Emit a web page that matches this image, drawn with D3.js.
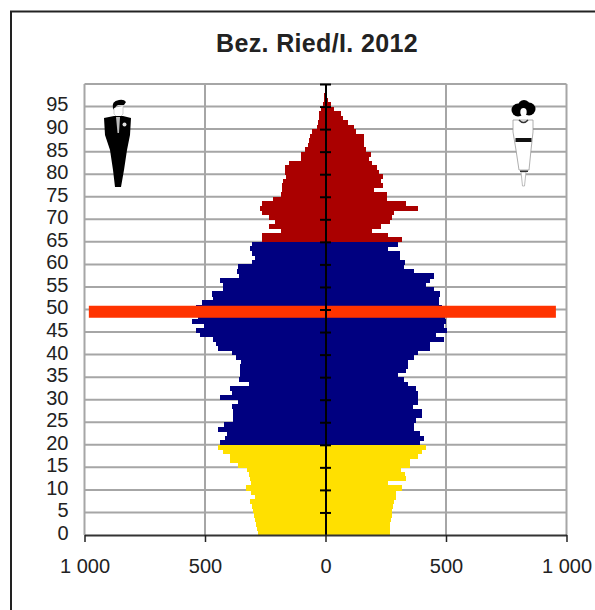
<!DOCTYPE html>
<html>
<head>
<meta charset="utf-8">
<script src="https://cdn.jsdelivr.net/npm/d3@7"></script>
<style>
  html, body { margin: 0; padding: 0; background: #fff; overflow: hidden; }
  text { font-family: "Liberation Sans", Arial, sans-serif; fill: #222; }
</style>
</head>
<body>
<div id="chart"></div>
<script>
// population per single year of age, index = age
const males = [
  282, 286, 289, 292, 296, 300, 305, 313, 292, 310,
  330, 310, 314, 317, 324, 365, 397, 397, 425, 448,
  438, 416, 407, 448, 420, 383, 383, 383, 389, 365,
  438, 390, 397, 317, 358, 355, 355, 355, 349, 372,
  389, 448, 455, 465, 521, 538, 506, 555, 531, 534,
  538, 513, 466, 472, 427, 427, 438, 358, 368, 365,
  306, 292, 306, 314, 306, 264, 264, 183, 234, 209,
  234, 264, 272, 264, 217, 185, 181, 181, 178, 165,
  167, 167, 151, 102, 102, 86, 71, 68, 65, 54,
  37, 33, 29, 26, 19, 10, 6, 5, 4, 3
];
const females = [
  268, 268, 268, 271, 275, 278, 281, 285, 292, 292,
  317, 260, 333, 329, 313, 350, 350, 382, 400, 416,
  391, 409, 391, 368, 368, 375, 400, 400, 361, 383,
  385, 385, 375, 344, 326, 301, 336, 344, 344, 368,
  384, 433, 433, 492, 458, 506, 492, 499, 497, 492,
  485, 469, 469, 475, 451, 416, 433, 451, 368, 326,
  330, 310, 310, 260, 299, 317, 260, 195, 230, 267,
  275, 285, 385, 333, 257, 257, 202, 237, 230, 237,
  220, 212, 195, 181, 188, 167, 160, 160, 160, 126,
  119, 95, 73, 64, 36, 22, 12, 4, 3, 2
];

// age groups
const groupStarts = [0, 20, 65];
const groupColors = ["#ffe000", "#000080", "#aa0000"];

// red marker bar (birth year cohort)
const markerAge = [49];
const markerMale = [982];
const markerFemale = [956];

const ageTicks = d3.range(0, 100, 5);
const gridAges = d3.range(5, 101, 5);
const valueTicks = [-1000, -500, 0, 500, 1000];
const title = "Bez. Ried/I. 2012";

const width = 595;
const height = 610;

const x = d3.scaleLinear().domain([-1000, 1000]).range([84.5, 566.5]);
const y = d3.scaleLinear().domain([0, 100]).range([535, 84]);
const ageColor = d3.scaleThreshold().domain(groupStarts.slice(1)).range(groupColors);

const svg = d3
  .select("#chart")
  .append("svg")
  .attr("width", width)
  .attr("height", height);

// frame of the picture, runs off right and bottom
svg
  .append("path")
  .attr("d", "M11,620V11.5H610")
  .style("fill", "none")
  .style("stroke", "#222")
  .style("stroke-width", 2);

svg
  .append("text")
  .attr("x", 317)
  .attr("y", 52)
  .attr("text-anchor", "middle")
  .style("font-weight", "bold")
  .style("font-size", "25px")
  .style("letter-spacing", "0.35px")
  .text(title);

// Grid
svg
  .selectAll(".gridH")
  .data(gridAges)
  .enter()
  .append("line")
  .attr("class", "gridH")
  .attr("x1", x(-1000))
  .attr("x2", x(1000))
  .attr("y1", d => y(d))
  .attr("y2", d => y(d))
  .style("stroke", "#a6a6a6")
  .style("stroke-width", 2);

svg
  .selectAll(".gridV")
  .data(valueTicks.filter(d => d !== 0))
  .enter()
  .append("line")
  .attr("class", "gridV")
  .attr("x1", d => x(d))
  .attr("x2", d => x(d))
  .attr("y1", y(100))
  .attr("y2", y(0))
  .style("stroke", "#a6a6a6")
  .style("stroke-width", 2);

// Bars
const drawSide = (values, side) => {
  svg
    .selectAll(".bar" + side)
    .data(values)
    .enter()
    .append("rect")
    .attr("class", "bar" + side)
    .attr("x", d => (side < 0 ? x(-d) : x(0)))
    .attr("width", d => x(d) - x(0))
    .attr("y", (d, i) => y(i + 1))
    .attr("height", (d, i) => y(i) - y(i + 1) + 0.6)
    .attr("fill", (d, i) => ageColor(i))
    .attr("shape-rendering", "crispEdges");
};
drawSide(males, -1);
drawSide(females, 1);

// Marker
svg
  .selectAll(".marker")
  .data(markerAge)
  .enter()
  .append("rect")
  .attr("class", "marker")
  .attr("x", (d, i) => x(-markerMale[i]))
  .attr("width", (d, i) => x(markerFemale[i]) - x(-markerMale[i]))
  .attr("y", d => y(d + 0.5) - 6)
  .attr("height", 12)
  .attr("fill", "#ff3300");

// Center axis with its age ticks
const centerAxis = d3
  .axisRight(y)
  .tickValues(gridAges)
  .tickSize(0)
  .tickFormat("");
const centerG = svg
  .append("g")
  .attr("transform", `translate(${x(0)},0)`)
  .call(centerAxis);
centerG.select(".domain").style("stroke", "#000").style("stroke-width", 2);
centerG
  .selectAll(".tick line")
  .attr("x1", -5.5)
  .attr("x2", 5.5)
  .style("stroke", "#000")
  .style("stroke-width", 2);

// Age labels
const ageAxis = d3
  .axisLeft(y)
  .tickValues(ageTicks)
  .tickSize(0)
  .tickPadding(16);
const ageG = svg
  .append("g")
  .attr("transform", `translate(${x(-1000)},-2)`)
  .call(ageAxis);
ageG.select(".domain").remove();
ageG.attr("font-family", null).attr("font-size", null);
ageG.selectAll("text").style("font-size", "20px");

// Value axis
const valueAxis = d3
  .axisBottom(x)
  .tickValues(valueTicks)
  .tickSize(7)
  .tickSizeOuter(0)
  .tickPadding(17)
  .tickFormat(d => d3.format(",")(Math.abs(d)).replace(",", " "));
const valueG = svg
  .append("g")
  .attr("transform", `translate(0,${y(0)})`)
  .call(valueAxis);
valueG.attr("font-family", null).attr("font-size", null);
valueG.select(".domain").style("stroke", "#333").style("stroke-width", 2);
valueG.selectAll("line").style("stroke", "#222").style("stroke-width", 1.5);
valueG.selectAll("text").style("font-size", "20px");

// Man pictogram
const man = svg.append("g");
man
  .append("path")
  .attr("d", "M113,109Q111,101 119,100Q124,99 126,102L124,105L118,105Q115,106 115,110Z")
  .style("fill", "#000");
man
  .append("path")
  .attr("d", "M114,108V114L117,117H120L123,114V106")
  .style("fill", "#fff")
  .style("stroke", "#bbb")
  .style("stroke-width", 0.7);
man
  .append("path")
  .attr("d", "M104,118L114,116H123L131,118L130,135L127,150L124,170L121,187H115L113,170L110,150L105,135Z")
  .style("fill", "#000");
man
  .append("path")
  .attr("d", "M116,117H120L119,133H117.5Z")
  .style("fill", "#bbb");
man
  .append("circle")
  .attr("cx", 124.5)
  .attr("cy", 124.5)
  .attr("r", 2)
  .style("fill", "#ddd");

// Woman pictogram
const woman = svg.append("g");
woman
  .append("path")
  .attr("d", "M513,120L533,120L533,132L531,150L529,170H519L516,150L513,132Z")
  .style("fill", "#fff")
  .style("stroke", "#999")
  .style("stroke-width", 0.8);
woman
  .append("path")
  .attr("d", "M521,172H526L524.5,186H522.5Z")
  .style("fill", "#fff")
  .style("stroke", "#aaa")
  .style("stroke-width", 0.8);
woman
  .append("circle").attr("cx", 518).attr("cy", 110).attr("r", 6.5).style("fill", "#000");
woman
  .append("circle").attr("cx", 529).attr("cy", 109).attr("r", 6.5).style("fill", "#000");
woman
  .append("circle").attr("cx", 524).attr("cy", 106).attr("r", 6).style("fill", "#000");
woman
  .append("ellipse").attr("cx", 523.5).attr("cy", 112).attr("rx", 3.2).attr("ry", 4).style("fill", "#fff");
woman
  .append("path")
  .attr("d", "M519,120Q523.5,125 528,120")
  .style("fill", "none")
  .style("stroke", "#333")
  .style("stroke-width", 1.5);
woman
  .append("rect").attr("x", 515.5).attr("y", 138).attr("width", 16).attr("height", 4).style("fill", "#111");
woman
  .append("rect").attr("x", 520).attr("y", 170.5).attr("width", 8).attr("height", 1.5).style("fill", "#333");
</script>
</body>
</html>
